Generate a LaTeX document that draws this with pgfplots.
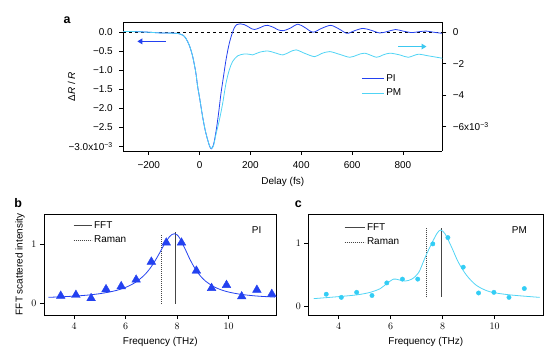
\documentclass[border=0pt]{standalone}
\usepackage{pgfplots}
\pgfplotsset{compat=1.18}
\usepackage{fontspec}
\setmainfont{Liberation Sans}
\usetikzlibrary{arrows.meta}
\definecolor{piblue}{RGB}{35,65,240}
\definecolor{pmcyan}{RGB}{80,212,245}
\definecolor{arrowcyan}{RGB}{60,200,240}
\definecolor{dotcyan}{RGB}{50,205,245}
\definecolor{linegray}{RGB}{70,70,70}
\begin{document}
\begin{tikzpicture}
\path[use as bounding box] (0bp,0bp) rectangle (559bp,354bp);
\pgfplotsset{
  every axis/.append style={scale only axis, anchor=south west,
    font=\fontsize{10}{12}\selectfont,
    tick align=outside, major tick length=4bp,
    tick style={black, line width=0.5pt},
    axis line style={black, line width=0.6pt}},
}
% ---------------- panel a ----------------
\node[font=\fontsize{12.5}{14}\selectfont\bfseries] at (67bp,334bp) {a};
\begin{axis}[at={(123.3bp,203bp)}, width=319bp, height=128.7bp,
  xmin=-300, xmax=955, ymin=-3.12, ymax=0.26,
  axis y line*=left, xtick pos=left,
  xtick={-200,0,200,400,600,800}, xticklabels={−200,0,200,400,600,800},
  ytick={0,-0.5,-1,-1.5,-2,-2.5,-3},
  yticklabels={0.0,−0.5,−1.0,−1.5,−2.0,−2.5,{−3.0x10\textsuperscript{−3}}},
  xticklabel style={yshift=-3bp}, yticklabel style={xshift=-3bp},
  xlabel={Delay (fs)}, ylabel={Δ\textit{R} / \textit{R}},
  xlabel style={at={(axis description cs:0.5,-0.24)}, anchor=center},
  ylabel style={at={(axis description cs:-0.162,0.5)}, anchor=center},
]
\addplot[black, line width=0.6pt, dash pattern=on 3bp off 3bp] coordinates {(-300,0) (955,0)};
\addplot[piblue, line width=0.8pt, smooth, tension=0.5] coordinates {
(-300,0.02)(-250,0.015)(-200,0.0)(-150,-0.02)(-100,-0.025)(-80,-0.04)(-65,-0.08)(-54,-0.16)
(-40,-0.35)(-27,-0.64)(-15,-1.05)(-7.5,-1.43)(0,-1.72)(12,-2.22)(22,-2.57)(32,-2.83)(40,-3.0)
(47,-3.06)(55,-2.95)(65,-2.6)(75,-2.12)(84,-1.62)(94,-1.17)(104,-0.73)(114,-0.38)(124,-0.12)
(137,0.12)(147,0.2)(160,0.22)(175,0.2)(190,0.15)(205,0.09)(216,0.07)(235,0.11)(255,0.17)
(268,0.18)(290,0.13)(310,0.06)(330,0.04)(355,0.1)(387,0.21)(415,0.12)(446,0.0)(480,0.1)
(516,0.18)(550,0.08)(580,-0.03)(610,0.04)(643,0.1)(675,0.05)(709,-0.02)(740,0.02)(771,0.07)
(800,0.03)(834,-0.01)(860,0.01)(891,0.03)(920,0.0)(955,-0.03)};
\draw[piblue, line width=1.6pt, -{Triangle[length=5bp,width=5.5bp]}]
  (axis cs:-133,-0.24) -- (axis cs:-245,-0.24);
\end{axis}
\begin{axis}[at={(123.3bp,203bp)}, width=319bp, height=128.7bp,
  xmin=-300, xmax=955, ymin=-7.54, ymax=0.63,
  axis y line*=right, axis x line=none,
  ytick={0,-2,-4,-6}, yticklabels={0,−2,−4,{−6x10\textsuperscript{−3}}},
  yticklabel style={xshift=3bp},
  legend cell align=left,
  legend style={draw=none, fill=none, at={(0.736,0.625)}, anchor=north west,
    font=\fontsize{10}{12}\selectfont, row sep=2bp},
  legend image code/.code={\draw[#1, line width=1pt] (0bp,0bp) -- (22bp,0bp);},
]
\addlegendimage{draw=piblue, line width=1pt}
\addlegendentry{PI}
\addplot[pmcyan, line width=0.8pt, smooth, tension=0.5] coordinates {
(-300,0.05)(-250,0.035)(-200,0.0)(-150,-0.05)(-100,-0.06)(-80,-0.1)(-65,-0.19)(-54,-0.39)
(-40,-0.84)(-27,-1.54)(-15,-2.53)(-7.5,-3.45)(0,-4.15)(12,-5.36)(22,-6.2)(32,-6.83)(40,-7.24)
(47,-7.37)(55,-7.2)(65,-6.45)(78,-5.57)(91,-4.51)(104,-3.24)(117,-2.39)(130,-1.86)(150,-1.50)
(176,-1.38)(195,-1.40)(209,-1.44)(236,-1.27)(268,-1.19)(295,-1.30)(328,-1.44)(355,-1.25)
(380,-1.12)(415,-1.35)(453,-1.55)(480,-1.35)(512,-1.23)(550,-1.40)(591,-1.59)(620,-1.45)
(650,-1.33)(696,-1.59)(720,-1.45)(749,-1.33)(790,-1.45)(821,-1.59)(860,-1.40)(900,-1.50)(955,-1.65)};
\addlegendentry{PM}
\draw[arrowcyan, line width=1.6pt, -{Triangle[length=5bp,width=5.5bp]}]
  (axis cs:781,-0.91) -- (axis cs:893,-0.91);
\end{axis}
% ---------------- panel b ----------------
\node[font=\fontsize{12.5}{14}\selectfont\bfseries] at (18.3bp,150.7bp) {b};
\begin{axis}[at={(44bp,39bp)}, width=232.7bp, height=101bp,
  xmin=2.83, xmax=11.87, ymin=-0.19, ymax=1.5,
  xtick={4,6,8,10}, ytick={0,1}, xtick pos=left, ytick pos=left,
  xticklabel style={yshift=-1bp},
  xlabel={Frequency (THz)}, ylabel={FFT scattered intensity},
  xlabel style={at={(axis description cs:0.5,-0.27)}, anchor=center},
  ylabel style={at={(axis description cs:-0.103,0.5)}, anchor=center},
  legend cell align=left,
  legend style={draw=none, fill=none, at={(0.112,0.965)}, anchor=north west,
    font=\fontsize{10}{12}\selectfont, row sep=2bp},
  legend image code/.code={\draw[#1] (0bp,0bp) -- (18bp,0bp);},
]
\addplot[linegray, line width=0.9pt] coordinates {(7.93,0) (7.93,1.20)};
\addlegendentry{FFT}
\addplot[linegray, line width=0.9pt, dash pattern=on 1bp off 1bp] coordinates {(7.39,0) (7.39,1.16)};
\addlegendentry{Raman}
\addplot[piblue, line width=0.8pt, smooth, forget plot] coordinates {
(3.0,0.106)(3.5,0.114)(4.0,0.126)(4.5,0.142)(5.0,0.167)(5.5,0.206)(5.8,0.241)(6.1,0.29)
(6.4,0.361)(6.7,0.466)(6.9,0.562)(7.1,0.685)(7.3,0.832)(7.5,0.989)(7.7,1.118)(7.8,1.157)
(7.9,1.17)(8.0,1.151)(8.1,1.097)(8.3,0.926)(8.5,0.741)(8.7,0.585)(8.9,0.466)(9.1,0.379)
(9.4,0.29)(9.7,0.233)(10.0,0.194)(10.4,0.161)(10.8,0.139)(11.2,0.124)(11.8,0.109)};
\addplot[only marks, mark=triangle*, mark size=5bp, color=piblue, forget plot] coordinates {
(3.48,0.13)(4.07,0.145)(4.66,0.09)(5.24,0.24)(5.83,0.29)(6.41,0.40)(7.0,0.70)(7.58,1.02)
(8.17,1.02)(8.75,0.55)(9.34,0.26)(9.92,0.31)(10.51,0.12)(11.10,0.23)(11.68,0.16)};
\node[font=\fontsize{10}{12}\selectfont] at (axis description cs:0.914,0.84) {PI};
\end{axis}
% ---------------- panel c ----------------
\node[font=\fontsize{12.5}{14}\selectfont\bfseries] at (298.3bp,150bp) {c};
\begin{axis}[at={(308.3bp,39bp)}, width=235bp, height=100.7bp,
  xmin=2.83, xmax=11.87, ymin=-0.14, ymax=1.46,
  xtick={4,6,8,10}, ytick={0,1}, xtick pos=left, ytick pos=left,
  xticklabel style={yshift=-1bp},
  xlabel={Frequency (THz)},
  xlabel style={at={(axis description cs:0.5,-0.27)}, anchor=center},
  legend cell align=left,
  legend style={draw=none, fill=none, at={(0.139,0.95)}, anchor=north west,
    font=\fontsize{10}{12}\selectfont, row sep=2bp},
  legend image code/.code={\draw[#1] (0bp,0bp) -- (20bp,0bp);},
]
\addplot[linegray, line width=0.9pt] coordinates {(7.97,0.15) (7.97,1.24)};
\addlegendentry{FFT}
\addplot[linegray, line width=0.9pt, dash pattern=on 1bp off 1bp] coordinates {(7.36,0.14) (7.36,1.24)};
\addlegendentry{Raman}
\addplot[pmcyan, line width=0.8pt, smooth, forget plot] coordinates {
(3.04,0.12)(3.94,0.15)(4.7,0.18)(5.21,0.22)(5.6,0.28)(5.85,0.36)(6.11,0.43)(6.3,0.42)
(6.56,0.40)(6.81,0.43)(7.07,0.53)(7.32,0.77)(7.51,0.94)(7.77,1.15)(7.92,1.21)(8.09,1.15)
(8.34,0.94)(8.6,0.70)(8.92,0.49)(9.3,0.33)(9.81,0.23)(10.58,0.18)(11.73,0.14)};
\addplot[only marks, mark=*, mark size=2.2bp, color=dotcyan, forget plot] coordinates {
(3.52,0.19)(4.10,0.14)(4.69,0.22)(5.28,0.17)(5.85,0.37)(6.45,0.43)(7.04,0.43)(7.62,0.99)
(8.20,1.09)(8.79,0.62)(9.38,0.21)(9.97,0.22)(10.55,0.14)(11.14,0.28)};
\node[font=\fontsize{10}{12}\selectfont] at (axis description cs:0.898,0.844) {PM};
\end{axis}
\end{tikzpicture}
\end{document}
